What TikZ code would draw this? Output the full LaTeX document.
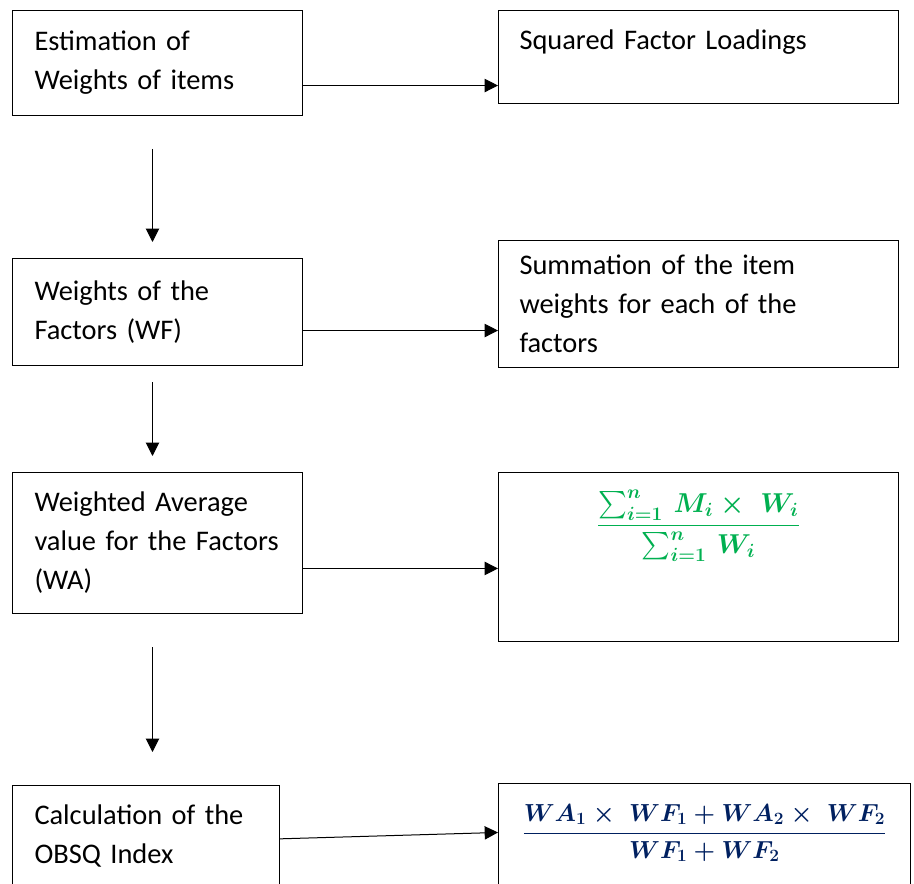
\RequirePackage{fix-cm}
\documentclass[tikz,border=0pt]{standalone}
\usepackage{amsmath,amssymb}
\usepackage[no-math]{fontspec}
\setmainfont{Carlito}
\usepackage{tikz}
\usetikzlibrary{arrows.meta,positioning}
\definecolor{fgreen}{HTML}{00B050}
\definecolor{fnavy}{HTML}{002060}
\hyphenpenalty=10000

\begin{document}
\begin{tikzpicture}[x=0.75pt,y=-0.75pt,
  box/.style={draw,line width=0.75pt,anchor=north west,align=left,inner xsep=16.5pt,
    font=\fontsize{21.3}{29.25}\selectfont},
  lbox/.style={box,text width=184.5pt},
  rbox/.style={box,inner xsep=15.75pt,text width=268.5pt},
  arr/.style={-{Triangle[length=10pt,width=10pt]},line width=0.75pt}]
\useasboundingbox (0,0) rectangle (914,884);

\node[lbox,minimum height=78.75pt] (est) at (12,10) {Estimation of\\Weights of items};
\node[rbox,inner ysep=0pt,text height=29.25pt,text depth=40.5pt] (sq) at (498,10) {Squared Factor Loadings};

\node[lbox,minimum height=80.25pt] (wf) at (12,258) {Weights of the\\Factors (WF)};
\node[rbox,minimum height=95.25pt] (sum) at (498,240) {Summation of the item\\weights for each of the\\factors};

\node[lbox,minimum height=105.75pt] (wa) at (12,472) {Weighted Average\\value for the Factors\\(WA)};
\node[rbox,align=center,inner ysep=0pt,text height=45pt,text depth=81.75pt,text=fgreen,
  font=\fontsize{20.5}{26}\selectfont\boldmath] (wavg) at (498,472)
  {$\dfrac{\sum_{i=1}^{n}\, M_i \times\; W_i}{\sum_{i=1}^{n}\, W_i}$};

\node[lbox,text width=167.25pt,minimum height=76pt] (calc) at (12,785) {Calculation of the\\OBSQ Index};
\node[box,align=center,inner xsep=15.75pt,text width=277.5pt,inner ysep=0pt,text height=42pt,
  text depth=38.25pt,text=fnavy,font=\fontsize{18.5}{24}\selectfont\boldmath] (obsq) at (498,783)
  {$\dfrac{WA_1 \times\; WF_1 + WA_2 \times\; WF_2}{WF_1 + WF_2}$};

\draw[arr] ([yshift=-16.9pt]est.east) -- ([yshift=-21.4pt]sq.west);
\draw[arr] ([yshift=-13.9pt]wf.east) -- ([yshift=-19.9pt]sum.west);
\draw[arr] ([yshift=-19.1pt]wa.east) -- ([yshift=-8.6pt]wavg.west);
\draw[arr] ([yshift=-2pt]calc.east) -- ([yshift=3.4pt]obsq.west);

\draw[arr,shorten <=24.75pt,shorten >=12pt] ([xshift=-3.75pt]est.south) -- ([xshift=-3.75pt]wf.north);
\draw[arr,shorten <=12pt,shorten >=12pt] ([xshift=-3.75pt]wf.south) -- ([xshift=-3.75pt]wa.north);
\draw[arr,shorten <=24.75pt,shorten >=24.75pt] ([xshift=-3.75pt]wa.south) -- ([xshift=-3.75pt]wa.south |- calc.north);
\end{tikzpicture}
\end{document}
